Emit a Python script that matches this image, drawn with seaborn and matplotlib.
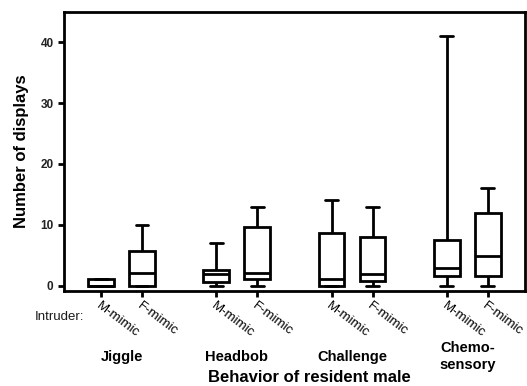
import numpy as np
import pandas as pd
import matplotlib
matplotlib.use('Agg')
import matplotlib.pyplot as plt
import seaborn as sns

# five-number summaries: [min, Q1, median, Q3, max]
behaviors = ['Jiggle', 'Headbob', 'Challenge', 'Chemo-\nsensory']
intruders = ['M-mimic', 'F-mimic']
summaries = {
    ('Jiggle', 'M-mimic'): [0, 0, 0, 1.1, 1.1],
    ('Jiggle', 'F-mimic'): [0, 0, 2.1, 5.6, 10],
    ('Headbob', 'M-mimic'): [0, 0.6, 1.9, 2.5, 7],
    ('Headbob', 'F-mimic'): [0, 1.0, 2.1, 9.6, 13],
    ('Challenge', 'M-mimic'): [0, 0, 1.0, 8.6, 14],
    ('Challenge', 'F-mimic'): [0, 0.7, 1.9, 8.0, 13],
    ('Chemo-\nsensory', 'M-mimic'): [0, 1.5, 2.9, 7.5, 41],
    ('Chemo-\nsensory', 'F-mimic'): [0, 1.5, 4.9, 12.0, 16],
}

rows = []
for (beh, intr), vals in summaries.items():
    for v in vals:
        rows.append({'Behavior': beh, 'Intruder': intr, 'Displays': v})
df = pd.DataFrame(rows)

sns.set_style('ticks')
plt.rcParams['font.family'] = ['Liberation Sans', 'DejaVu Sans']
plt.rcParams['text.color'] = 'black'
plt.rcParams['axes.labelcolor'] = 'black'
plt.rcParams['xtick.color'] = 'black'
plt.rcParams['ytick.color'] = 'black'

fig = plt.figure(figsize=(5.27, 3.86), dpi=100)
ax = fig.add_axes([0.1214, 0.2461, 0.8746, 0.7228])

sns.boxplot(data=df, x='Behavior', y='Displays', hue='Intruder',
            order=behaviors, hue_order=intruders,
            palette={'M-mimic': 'white', 'F-mimic': 'white'},
            linecolor='black', linewidth=2, width=0.71, gap=0.37,
            whis=(0, 100), showfliers=False, legend=False, ax=ax)

ax.set_xlim(-0.5, 3.5)
ax.set_ylim(-0.9, 45)
ax.set_yticks([0, 10, 20, 30, 40])
for lab in ax.get_yticklabels():
    lab.set_fontweight('bold')
    lab.set_color('#222222')
    lab.set_fontsize(8.5)

off = 0.71 / 4
pos = []
labs = []
for i in range(len(behaviors)):
    pos += [i - off, i + off]
    labs += intruders
ax.set_xticks(pos)
ax.set_xticklabels(labs, rotation=-37, ha='left', va='top',
                   rotation_mode='anchor', fontsize=9.5)
ax.tick_params(axis='both', width=2, length=4, color='black')
ax.tick_params(axis='x', pad=2)

for sp in ax.spines.values():
    sp.set_visible(True)
    sp.set_linewidth(2)
    sp.set_color('black')

ax.set_xlabel('')
ax.set_ylabel('Number of displays', fontsize=12, fontweight='bold', labelpad=8)

trans = ax.get_xaxis_transform()
for i, beh in enumerate(behaviors):
    ax.text(i, -0.235, beh, transform=trans, ha='center', va='center',
            fontsize=10.5, fontweight='bold', linespacing=1.25)
fig.text(35 / 527, 1 - 317 / 386, 'Intruder:', ha='left', va='center',
         fontsize=9.5, color='#1a1a1a')
fig.text(309 / 527, 1 - 378 / 386, 'Behavior of resident male',
         ha='center', va='center', fontsize=12, fontweight='bold')

fig.savefig('out.png', dpi=100)
